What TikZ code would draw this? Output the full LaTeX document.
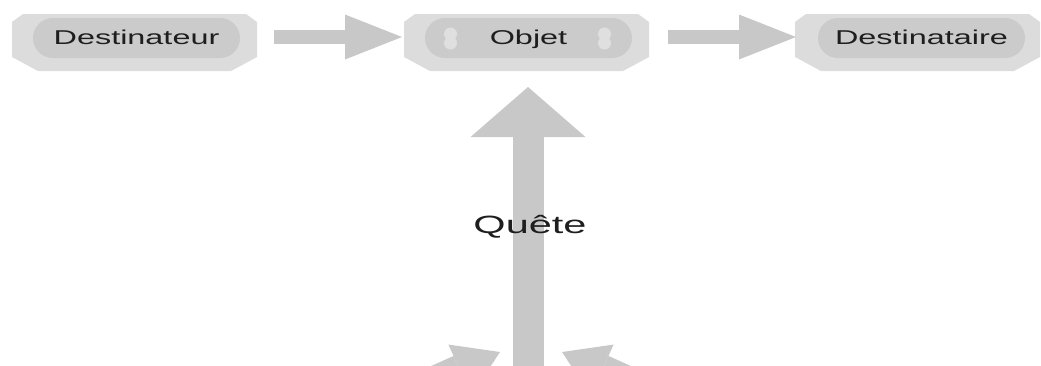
\documentclass[tikz,border=0pt]{standalone}
\usepackage{fontspec}
\setmainfont{Liberation Sans}
\usetikzlibrary{arrows.meta,calc}

\definecolor{boxface}{HTML}{DCDCDC}
\definecolor{pillface}{HTML}{CBCBCB}
\definecolor{arrowgray}{HTML}{C8C8C8}
\definecolor{dotface}{HTML}{DFDFDF}
\definecolor{inkgray}{HTML}{1E1E1E}

% wide lettering used for every label
\newcommand{\widetext}[2][1.62]{\scalebox{#1}[1]{#2}}

\begin{document}
\begin{tikzpicture}[x=1pt,y=-1pt,
  actbox/.style={minimum width=245pt,minimum height=57pt,inner sep=0pt,outer sep=0pt,fill=white,
    path picture={\fill[boxface]
      ([xshift=11pt]path picture bounding box.north west)
      -- ([xshift=-11pt]path picture bounding box.north east)
      -- ([yshift=-8pt]path picture bounding box.north east)
      -- ([yshift=14pt]path picture bounding box.south east)
      -- ([xshift=-26pt]path picture bounding box.south east)
      -- ([xshift=26pt]path picture bounding box.south west)
      -- ([yshift=14pt]path picture bounding box.south west)
      -- ([yshift=-8pt]path picture bounding box.north west) -- cycle;}},
  pill/.style={minimum width=207pt,minimum height=40pt,inner sep=0pt,rounded corners=20pt,
    fill=pillface,text=inkgray,font=\fontsize{20}{24}\selectfont,
    text height=14.5pt,text depth=2pt},
  knob/.style={fill=dotface,draw=none},
  harrow/.style={draw=arrowgray,line width=14pt,
    -{Triangle[length=57pt 0 0,width=45pt 0 0,line width=0pt 0 0,fill=arrowgray]}},
  varrow/.style={draw=arrowgray,line width=31pt,
    -{Triangle[length=50pt 0 0,width=115pt 0 0,line width=0pt 0 0,fill=arrowgray]}},
  darrow/.style={draw=arrowgray,line width=31pt,
    -{Triangle[length=44pt 0 0,width=56pt 0 0,line width=0pt 0 0,fill=arrowgray]}},
  questlabel/.style={text=inkgray,font=\fontsize{25}{30}\selectfont,inner sep=0pt},
]
\useasboundingbox (0,0) rectangle (1041,365);
\clip (0,0) rectangle (1041,365);

% the three actants of the top row
\node[actbox] (dst) at (134.5,42.5) {};
\node[actbox] (obj) at (526.5,42.5) {};
\node[actbox] (dest) at (917.5,42.5) {};

\node[pill] (dstp) at ([xshift=2pt,yshift=4.5pt]dst.center) {\widetext{Destinateur}};
\node[pill] (objp) at ([xshift=2pt,yshift=4.5pt]obj.center) {\widetext{Objet}};
\node[pill] (destp) at ([xshift=4pt,yshift=4.5pt]dest.center) {\widetext{Destinataire}};

% small twin knobs on the object pill
\foreach \dx in {-78,76} {
  \fill[knob] ([xshift=\dx pt,yshift=4pt]objp.center) circle (6.5pt);
  \fill[knob] ([xshift=\dx pt,yshift=-5pt]objp.center) circle (6.5pt);
}

% communication axis
\draw[harrow] ([xshift=17pt,yshift=5.5pt]dst.east) -- ([xshift=-2pt,yshift=5.5pt]obj.west);
\draw[harrow] ([xshift=19pt,yshift=5.5pt]obj.east) -- ([xshift=1pt,yshift=5.5pt]dest.west);

% axis of the quest, coming up from below
\coordinate (questfoot) at (528,400);
\draw[varrow] (questfoot) -- ([xshift=1.5pt,yshift=-16pt]obj.south);

% helper and opponent arrows entering from below
\coordinate (leftfoot) at (318,434);
\coordinate (lefttip) at (500,352);
\coordinate (rightfoot) at (744,434);
\coordinate (righttip) at (562,352);
\draw[darrow] (leftfoot) -- (lefttip);
\draw[darrow] (rightfoot) -- (righttip);

\node[questlabel,anchor=base] (quest) at (530,233) {\widetext[1.66]{Quête}};
\end{tikzpicture}
\end{document}
